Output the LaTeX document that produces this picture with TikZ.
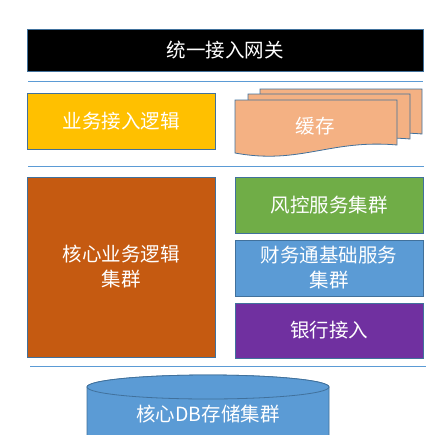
\documentclass[tikz,border=0pt]{standalone}
\usepackage{fontspec}
\newfontfamily\cjk{Noto Sans CJK SC}
\usetikzlibrary{positioning}
\definecolor{gwblack}{HTML}{000000}
\definecolor{bizyellow}{HTML}{FFC000}
\definecolor{cachepeach}{HTML}{F4B183}
\definecolor{coreorange}{HTML}{C55A11}
\definecolor{riskgreen}{HTML}{70AD47}
\definecolor{finblue}{HTML}{5B9BD5}
\definecolor{bankpurple}{HTML}{7030A0}
\definecolor{edgeblue}{HTML}{41719C}

\begin{document}
\begin{tikzpicture}[
    x=1pt, y=-1pt,
    block/.style={rectangle, draw=edgeblue, line width=0.8pt, minimum width=188pt, minimum height=56pt, inner sep=0pt, text=white, font=\cjk\fontsize{19.5}{25}\selectfont, align=center},
    sepline/.style={draw=finblue, line width=1pt},
    doc/.style={fill=cachepeach, draw=edgeblue, line width=0.8pt},
    label/.style={text=white, font=\cjk\fontsize{19.5}{25}\selectfont, align=center},
]
    \useasboundingbox (0,0) rectangle (436,434);
    \clip (0,0) rectangle (436,434);

    % gateway
    \node[block, fill=gwblack, minimum width=396pt, minimum height=42pt] (gateway) at (225,50) {统一接入网关};
    \draw[sepline] (28,81) -- (423,81);

    % access layer
    \node[block, fill=bizyellow] (bizlogic) at (121,121) {业务接入逻辑};
    \foreach \dx/\dy in {25/-11, 13/-6, 0/0} {
        \draw[doc, shift={(\dx,\dy)}] (235,100) -- (397,100) -- (397,145)
            .. controls (330,139) and (300,165) .. (235,153) -- cycle;
    }
    \node[label] (cache) at (315,126) {缓存};
    \draw[sepline] (28,166) -- (424,166);

    % service layer
    \node[block, fill=coreorange, minimum height=180pt] (core) at (121,267) {核心业务逻辑\\集群};
    \node[block, fill=riskgreen] (risk) at (329,205) {风控服务集群};
    \node[block, fill=finblue] (finance) at (329,268) {财务通基础服务\\集群};
    \node[block, fill=bankpurple, minimum height=55pt] (bank) at (329,330.5) {银行接入};
    \draw[sepline] (30,366) -- (426,366);

    % storage
    \draw[fill=finblue, draw=edgeblue, line width=0.8pt] (87,387) -- (87,445) -- (329,445) -- (329,387)
        arc[start angle=0, end angle=-180, x radius=121, y radius=12];
    \draw[fill=finblue, draw=edgeblue, line width=0.8pt] (208,387) ellipse[x radius=121, y radius=12];
    \node[label] (db) at (208,414) {核心DB存储集群};
\end{tikzpicture}
\end{document}
